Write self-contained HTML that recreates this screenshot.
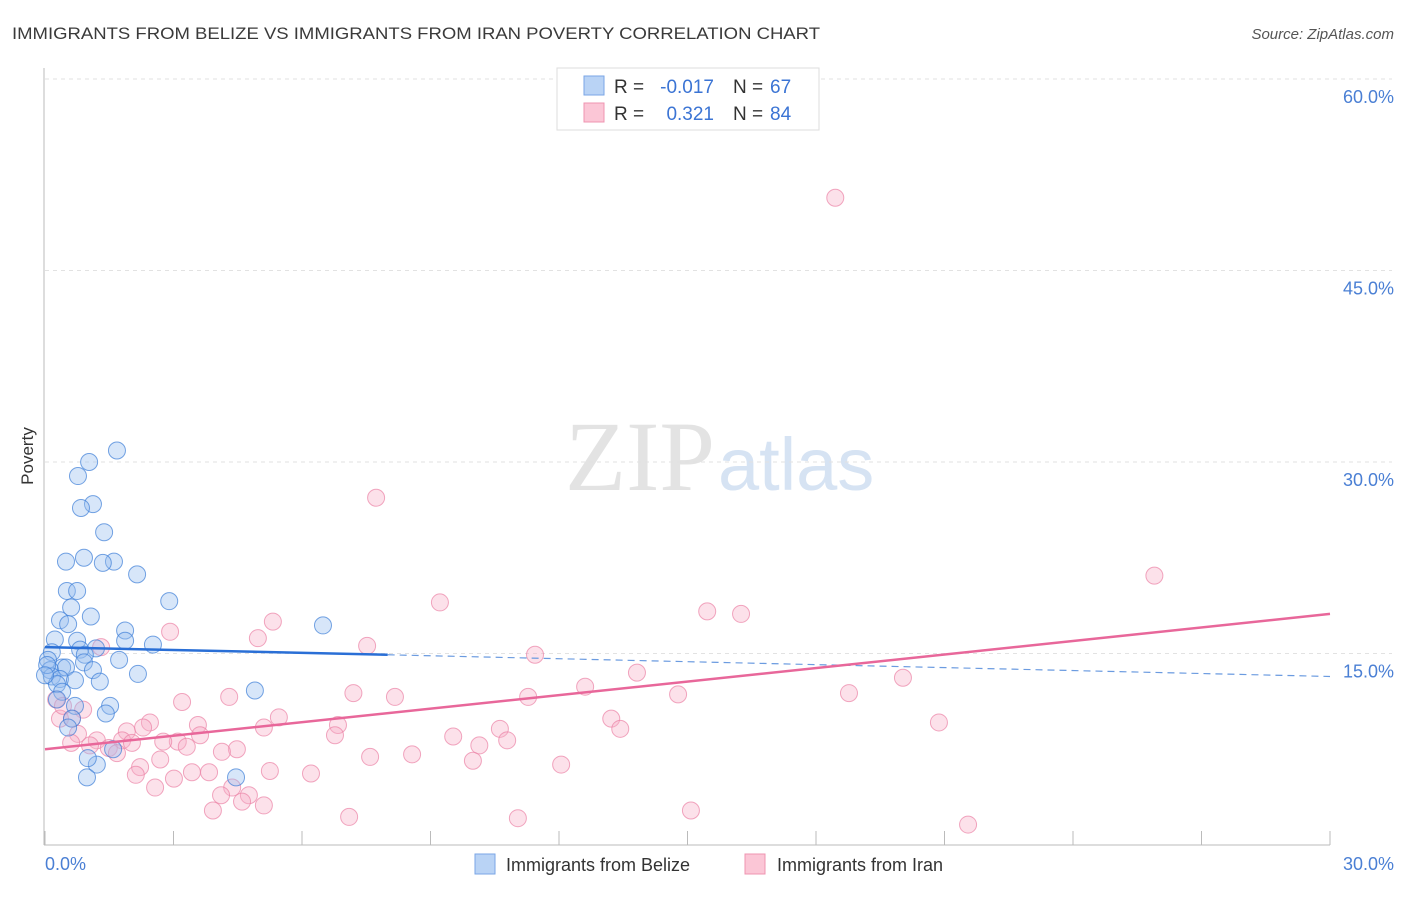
<!DOCTYPE html>
<html><head><meta charset="utf-8"><style>
body{margin:0;background:#fff;font-family:"Liberation Sans",sans-serif}
</style></head><body>
<svg width="1406" height="892" xmlns="http://www.w3.org/2000/svg" font-family="Liberation Sans, sans-serif">
<text x="12" y="39" font-size="17" fill="#3a3a3a" textLength="808" lengthAdjust="spacingAndGlyphs">IMMIGRANTS FROM BELIZE VS IMMIGRANTS FROM IRAN POVERTY CORRELATION CHART</text>
<text x="1394" y="39" font-size="15" fill="#555" text-anchor="end" font-style="italic">Source: ZipAtlas.com</text>
<text x="715" y="490" font-size="100" fill="#e3e3e3" text-anchor="end" font-family="Liberation Serif, serif">ZIP</text>
<text x="718" y="490" font-size="74" fill="#d6e3f3">atlas</text>
<g id="grid"></g>
<g id="marks"></g>
<g id="lines"></g>
<text transform="translate(33,456) rotate(-90)" font-size="17" fill="#333" text-anchor="middle">Poverty</text>
<text x="45" y="870" font-size="18" fill="#4a7fd4">0.0%</text>
<text x="1394" y="870" font-size="18" fill="#4a7fd4" text-anchor="end">30.0%</text>
<g>
<rect x="557" y="68" width="262" height="62" fill="#fff" stroke="#ddd"/>
<rect x="584" y="76" width="20" height="19" fill="#b9d3f5" stroke="#7aa6e6"/>
<rect x="584" y="103" width="20" height="19" fill="#fbc6d6" stroke="#ef94b0"/>
<text x="614" y="93" font-size="19" fill="#333">R =</text>
<text x="714" y="93" font-size="19" fill="#3b74d4" text-anchor="end">-0.017</text>
<text x="733" y="93" font-size="19" fill="#333">N =</text>
<text x="770" y="93" font-size="19" fill="#3b74d4">67</text>
<text x="614" y="120" font-size="19" fill="#333">R =</text>
<text x="714" y="120" font-size="19" fill="#3b74d4" text-anchor="end">0.321</text>
<text x="733" y="120" font-size="19" fill="#333">N =</text>
<text x="770" y="120" font-size="19" fill="#3b74d4">84</text>
</g>
<g>
<rect x="475" y="854" width="20" height="20" fill="#b9d3f5" stroke="#7aa6e6"/>
<text x="506" y="871" font-size="18" fill="#333">Immigrants from Belize</text>
<rect x="745" y="854" width="20" height="20" fill="#fbc6d6" stroke="#ef94b0"/>
<text x="777" y="871" font-size="18" fill="#333">Immigrants from Iran</text>
</g>
</svg>
<script>
const yTicks=[15,30,45,60];
const xTicks=[0,3,6,9,12,15,18,21,24,27,30];
const belizeX=[1.68,1.03,0.77,1.12,0.84,1.38,0.49,0.91,1.61,1.35,2.15,0.51,0.75,2.9,0.61,1.07,0.35,0.54,6.49,1.87,0.23,0.75,1.87,2.52,1.19,0.82,0.93,0.16,0.07,1.73,0.91,0.4,1.12,0.12,0.49,2.17,0.16,0.35,0.28,0.7,1.28,4.9,0.4,0.28,0.7,1.52,1.42,0.63,0.54,4.46,1.21,1.0,0.98,1.59,0.05,0.0];
const belizeY=[30.9,30.0,28.9,26.7,26.4,24.5,22.2,22.5,22.2,22.1,21.2,19.9,19.9,19.1,18.6,17.9,17.6,17.3,17.2,16.8,16.1,16.0,16.0,15.7,15.4,15.3,14.9,15.1,14.5,14.5,14.3,13.9,13.7,13.7,13.9,13.4,13.2,13.0,12.6,12.9,12.8,12.1,12.0,11.4,10.9,10.9,10.3,9.9,9.2,5.3,6.3,6.8,5.3,7.5,14.1,13.3];
const iranX=[18.45,7.73,25.9,9.22,15.46,16.25,5.32,2.92,4.97,7.52,11.44,1.31,13.82,20.03,12.61,7.2,14.78,18.77,8.17,11.28,4.3,3.2,0.26,0.89,13.22,5.46,20.87,2.45,5.11,3.57,6.84,13.43,10.62,0.35,0.63,0.77,1.91,2.29,6.77,3.62,9.53,1.8,3.1,10.79,10.14,2.76,2.03,1.21,3.31,0.61,4.48,4.13,1.49,1.68,8.57,7.59,2.69,9.99,2.22,12.05,3.43,3.83,5.25,6.21,2.12,3.01,4.37,2.57,4.11,4.76,4.6,5.11,3.92,15.08,7.1,11.04,21.55,0.42,1.05];
const iranY=[50.7,27.2,21.1,19.0,18.3,18.1,17.5,16.7,16.2,15.6,14.9,15.5,13.5,13.1,12.4,11.9,11.8,11.9,11.6,11.6,11.6,11.2,11.4,10.6,9.9,10.0,9.6,9.6,9.2,9.4,9.4,9.1,9.1,9.9,9.9,8.7,8.9,9.2,8.6,8.6,8.5,8.2,8.1,8.2,7.8,8.1,8.0,8.2,7.7,8.0,7.5,7.3,7.6,7.2,7.1,6.9,6.7,6.6,6.1,6.3,5.7,5.7,5.8,5.6,5.5,5.2,4.5,4.5,3.9,3.9,3.4,3.1,2.7,2.7,2.2,2.1,1.6,10.9,7.8];
const belizeTrendX=[0,8,30];
const belizeTrendY=[15.5,14.9,13.2];
const iranTrendX=[0,30];
const iranTrendY=[7.5,18.1];
const NS="http://www.w3.org/2000/svg";
const sx=v=>45+v/30*1285;
const sy=v=>845-v/15*191.5;
function mk(t,a,p){const e=document.createElementNS(NS,t);for(const k in a)e.setAttribute(k,a[k]);p.appendChild(e);return e;}
const grid=document.getElementById('grid');
yTicks.forEach(v=>{
 const l=mk('line',{x1:45,x2:1392,y1:sy(v),y2:sy(v),stroke:'#e2e2e2','stroke-dasharray':'4,4'},grid);
 
 
 const t=mk('text',{x:1394,y:sy(v)+24,'font-size':18,fill:'#4a7fd4','text-anchor':'end'},grid);
 t.textContent=v.toFixed(1)+'%';
 
 
});
const ax=mk('line',{x1:44,x2:44,y1:68,y2:845,stroke:'#bbb'},grid);


const bx=mk('line',{x1:44,x2:1330,y1:845,y2:845,stroke:'#bbb'},grid);


xTicks.forEach(v=>{
 const l=mk('line',{x1:sx(v),x2:sx(v),y1:831,y2:845,stroke:'#bbb'},grid);
 
 
});
const marks=document.getElementById('marks');
iranX.forEach((x,i)=>{
 const c=mk('circle',{cx:sx(x),cy:sy(iranY[i]),r:8.5,fill:'rgba(248,175,200,0.38)',stroke:'rgba(235,130,165,0.7)','stroke-width':1},marks);
 
 
});
belizeX.forEach((x,i)=>{
 const c=mk('circle',{cx:sx(x),cy:sy(belizeY[i]),r:8.5,fill:'rgba(150,190,240,0.38)',stroke:'rgba(60,125,215,0.7)','stroke-width':1},marks);
 
 
});
const lines=document.getElementById('lines');
const b1=mk('line',{x1:sx(belizeTrendX[0]),y1:sy(belizeTrendY[0]),x2:sx(belizeTrendX[1]),y2:sy(belizeTrendY[1]),stroke:'#2a6fd6','stroke-width':2.5},lines);


const b2=mk('line',{x1:sx(belizeTrendX[1]),y1:sy(belizeTrendY[1]),x2:sx(belizeTrendX[2]),y2:sy(belizeTrendY[2]),stroke:'#6b9be0','stroke-width':1.2,'stroke-dasharray':'7,5'},lines);


const p1=mk('line',{x1:sx(iranTrendX[0]),y1:sy(iranTrendY[0]),x2:sx(iranTrendX[1]),y2:sy(iranTrendY[1]),stroke:'#e8679a','stroke-width':2.5},lines);


</script>
</body></html>
